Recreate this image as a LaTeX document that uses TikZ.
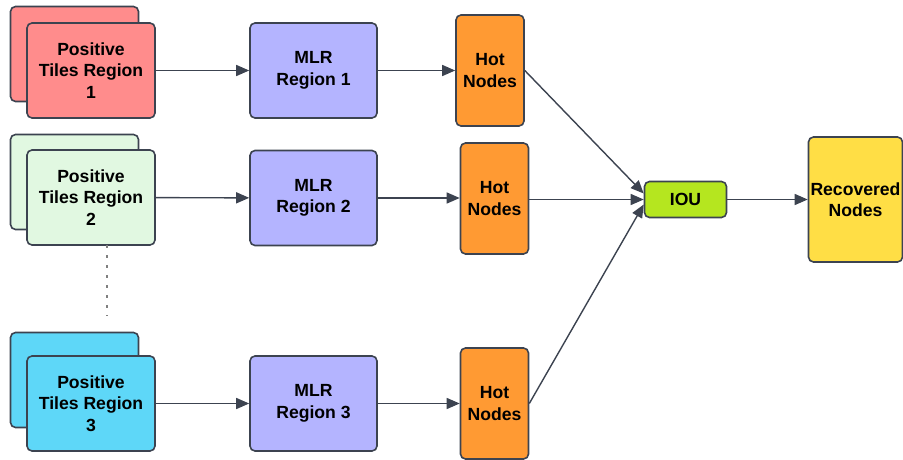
\documentclass[tikz,border=0pt]{standalone}
\usepackage{fontspec}
\setmainfont{Liberation Sans}
\usepackage{tikz}
\usetikzlibrary{arrows.meta,positioning}

\definecolor{edgegray}{HTML}{3C4350}
\definecolor{tilered}{HTML}{FF8C8C}
\definecolor{tilegreen}{HTML}{E1F8E1}
\definecolor{tileblue}{HTML}{5ED7F8}
\definecolor{mlrblue}{HTML}{B4B4FF}
\definecolor{hotorange}{HTML}{FF9A33}
\definecolor{ioulime}{HTML}{B5E61F}
\definecolor{recyellow}{HTML}{FFDE45}

\tikzset{
  box/.style={draw=edgegray, line width=1.6pt, rounded corners=5pt, align=center,
    font=\fontsize{17.6}{21.5}\selectfont\bfseries, inner sep=0pt},
  tilebox/.style={box, minimum width=128pt, minimum height=95pt},
  mlrbox/.style={box, fill=mlrblue, minimum width=127pt, minimum height=95pt},
  hotbox/.style={box, fill=hotorange, minimum width=68pt, minimum height=111pt},
  flow/.style={draw=edgegray, line width=1.4pt, -{Triangle[length=13pt,width=11pt]}}
}

\begin{document}
\begin{tikzpicture}[x=1pt,y=-1pt]
\useasboundingbox (0,0) rectangle (903,460);

% stacked tile boxes
\node (b1) at (74.5,54)  [tilebox, fill=tilered] {};
\node (t1) at (91,70.5)  [tilebox, fill=tilered] {Positive\\Tiles Region\\1};
\node (b2) at (74.5,182) [tilebox, fill=tilegreen] {};
\node (t2) at (91,197.5) [tilebox, fill=tilegreen] {Positive\\Tiles Region\\2};
\node (b3) at (74.5,380) [tilebox, fill=tileblue] {};
\node (t3) at (91,403.5) [tilebox, fill=tileblue] {Positive\\Tiles Region\\3};

% regression boxes
\node (m1) at (313.5,70.5)  [mlrbox] {MLR\\Region 1};
\node (m2) at (313.5,198)   [mlrbox] {MLR\\Region 2};
\node (m3) at (313.5,403.5) [mlrbox] {MLR\\Region 3};

% hot nodes
\node (h1) at (490,70.5)    [hotbox] {Hot\\Nodes};
\node (h2) at (494.5,198.5) [hotbox] {Hot\\Nodes};
\node (h3) at (494.5,403.5) [hotbox] {Hot\\Nodes};

\node (iou) at (685.5,199.5) [box, fill=ioulime, minimum width=82pt, minimum height=36pt] {IOU};
\node (rec) at (855.5,199.5) [box, fill=recyellow, minimum width=94pt, minimum height=125pt] {Recovered\\Nodes};

% dots between region 2 and region 3
\coordinate (d1) at (107,245);
\coordinate (d2) at (107,316);
\draw[gray, line width=1.6pt, dash pattern=on 2.5pt off 7.5pt] (d1) -- (d2);

\draw[flow] (t1) -- (m1);
\draw[flow] (t2) -- (m2);
\draw[flow] (t3) -- (m3);
\draw[flow] (m1) -- (h1);
\draw[flow] (m2.east) -- (h2.west |- m2.east);
\draw[flow] (m3) -- (h3);
\draw[flow] (h1.east) -- ([yshift=6pt]iou.west);
\draw[flow] (h2.east |- iou.west) -- (iou.west);
\draw[flow] (h3.east) -- ([yshift=-5pt]iou.west);
\draw[flow] (iou) -- (rec);
\end{tikzpicture}
\end{document}
